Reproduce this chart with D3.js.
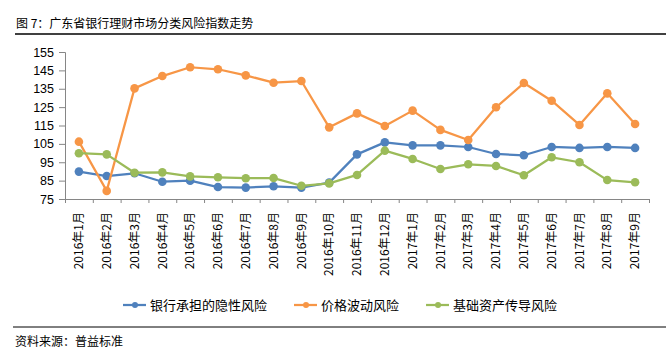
<!DOCTYPE html>
<html>
<head>
<meta charset="utf-8">
<script src="https://cdn.jsdelivr.net/npm/d3@7"></script>
<style>
  body { margin: 0; background: #fff; }
  svg { display: block; font-family: "Noto Sans CJK SC", "Liberation Sans", sans-serif; }
</style>
</head>
<body>
<div id="chart"></div>
<script>
const months = [
  '2016年1月', '2016年2月', '2016年3月', '2016年4月', '2016年5月', '2016年6月', '2016年7月',
  '2016年8月', '2016年9月', '2016年10月', '2016年11月', '2016年12月', '2017年1月', '2017年2月',
  '2017年3月', '2017年4月', '2017年5月', '2017年6月', '2017年7月', '2017年8月', '2017年9月',
];
const bankRisk = [89.9, 87.5, 89, 84.4, 85, 81.5, 81.2, 81.9, 81.2, 83.9, 99.3, 105.8, 104.2, 104.2, 103.3, 99.5, 98.8, 103.3, 102.8, 103.3, 102.8];
const priceRisk = [106.2, 79.4, 135.2, 141.9, 146.7, 145.6, 142.3, 138.3, 139.2, 114, 121.6, 114.7, 123.1, 112.6, 107.1, 124.9, 138.1, 128.5, 115.3, 132.5, 115.8];
const assetRisk = [99.9, 99.3, 89.3, 89.5, 87.3, 86.8, 86.3, 86.4, 82.2, 83.5, 88.1, 101.3, 96.8, 91.3, 93.9, 93, 87.9, 97.7, 95, 85.3, 84.1];
const seriesNames = ['银行承担的隐性风险', '价格波动风险', '基础资产传导风险'];
const yTicks = [75, 85, 95, 105, 115, 125, 135, 145, 155];

const colors = ['#4F81BD', '#F79646', '#9BBB59'];
const series = [bankRisk, priceRisk, assetRisk].map((values, i) => ({
  name: seriesNames[i],
  color: colors[i],
  values: values.map((v, j) => ({ month: months[j], value: v })),
}));

const W = 666;
const H = 352;
const svg = d3.select('#chart').append('svg')
  .attr('width', W)
  .attr('height', H);

// title + rule
svg.append('text')
  .attr('x', 16)
  .attr('y', 28)
  .style('font-size', '12px')
  .style('fill', '#000')
  .text('图 7：广东省银行理财市场分类风险指数走势');
svg.append('line')
  .attr('x1', 15).attr('x2', W)
  .attr('y1', 34).attr('y2', 34)
  .attr('stroke', '#000')
  .attr('stroke-width', 1.5);

const x = d3.scaleBand().domain(months).range([65, 649]);
const y = d3.scaleLinear().domain([75, 155]).range([199, 52]);
const axisColor = '#868686';

// y axis
const yAxis = svg.append('g')
  .attr('transform', 'translate(65,0)')
  .call(d3.axisLeft(y).tickValues(yTicks).tickSize(6).tickPadding(5));
yAxis.select('.domain').attr('stroke', axisColor);
yAxis.selectAll('.tick line').attr('stroke', axisColor);
yAxis.selectAll('.tick text')
  .style('font-family', '"Liberation Sans", Arial, sans-serif')
  .style('font-size', '12.5px')
  .style('fill', '#000');

// x axis: ticks at category boundaries
const xAxis = svg.append('g');
xAxis.append('line')
  .attr('x1', x.range()[0]).attr('x2', x.range()[1])
  .attr('y1', y(75) + 0.5).attr('y2', y(75) + 0.5)
  .attr('stroke', axisColor);
const bounds = months.map(m => x(m)).concat([x.range()[1]]);
xAxis.selectAll('line.tick')
  .data(bounds)
  .enter()
  .append('line')
  .attr('class', 'tick')
  .attr('x1', d => d + 0.5).attr('x2', d => d + 0.5)
  .attr('y1', y(75)).attr('y2', y(75) + 4)
  .attr('stroke', axisColor);
xAxis.selectAll('text')
  .data(months)
  .enter()
  .append('text')
  .attr('transform', d => `translate(${x(d) + x.bandwidth() / 2},212) rotate(-90)`)
  .attr('dy', '0.35em')
  .attr('text-anchor', 'end')
  .style('font-size', '12px')
  .style('fill', '#000')
  .text(d => d);

// lines
const line = d3.line()
  .x(d => x(d.month) + x.bandwidth() / 2)
  .y(d => y(d.value));

const g = svg.selectAll('g.series')
  .data(series)
  .enter()
  .append('g')
  .attr('class', 'series');

g.append('path')
  .attr('fill', 'none')
  .attr('stroke', d => d.color)
  .attr('stroke-width', 2.25)
  .attr('stroke-linejoin', 'round')
  .attr('d', d => line(d.values));

g.selectAll('circle')
  .data(d => d.values.map(v => ({ ...v, color: d.color })))
  .enter()
  .append('circle')
  .attr('cx', d => x(d.month) + x.bandwidth() / 2)
  .attr('cy', d => y(d.value))
  .attr('r', 4.3)
  .style('fill', d => d.color);

// legend
const legend = svg.append('g');
let lx = 123;
series.forEach((s) => {
  const item = legend.append('g').attr('transform', `translate(${lx},305)`);
  item.append('line')
    .attr('x1', 0).attr('x2', 23)
    .attr('stroke', s.color)
    .attr('stroke-width', 2.25);
  item.append('circle')
    .attr('cx', 12)
    .attr('r', 3)
    .style('fill', s.color);
  const t = item.append('text')
    .attr('x', 27)
    .attr('dy', '0.35em')
    .style('font-size', '13px')
    .style('fill', '#000')
    .text(s.name);
  lx += 27 + t.node().getComputedTextLength() + 27;
});

// footer
svg.append('line')
  .attr('x1', 13).attr('x2', W)
  .attr('y1', 327).attr('y2', 327)
  .attr('stroke', '#000')
  .attr('stroke-width', 1);
svg.append('text')
  .attr('x', 15)
  .attr('y', 346)
  .style('font-size', '12px')
  .style('fill', '#000')
  .text('资料来源：普益标准');
</script>
</body>
</html>
